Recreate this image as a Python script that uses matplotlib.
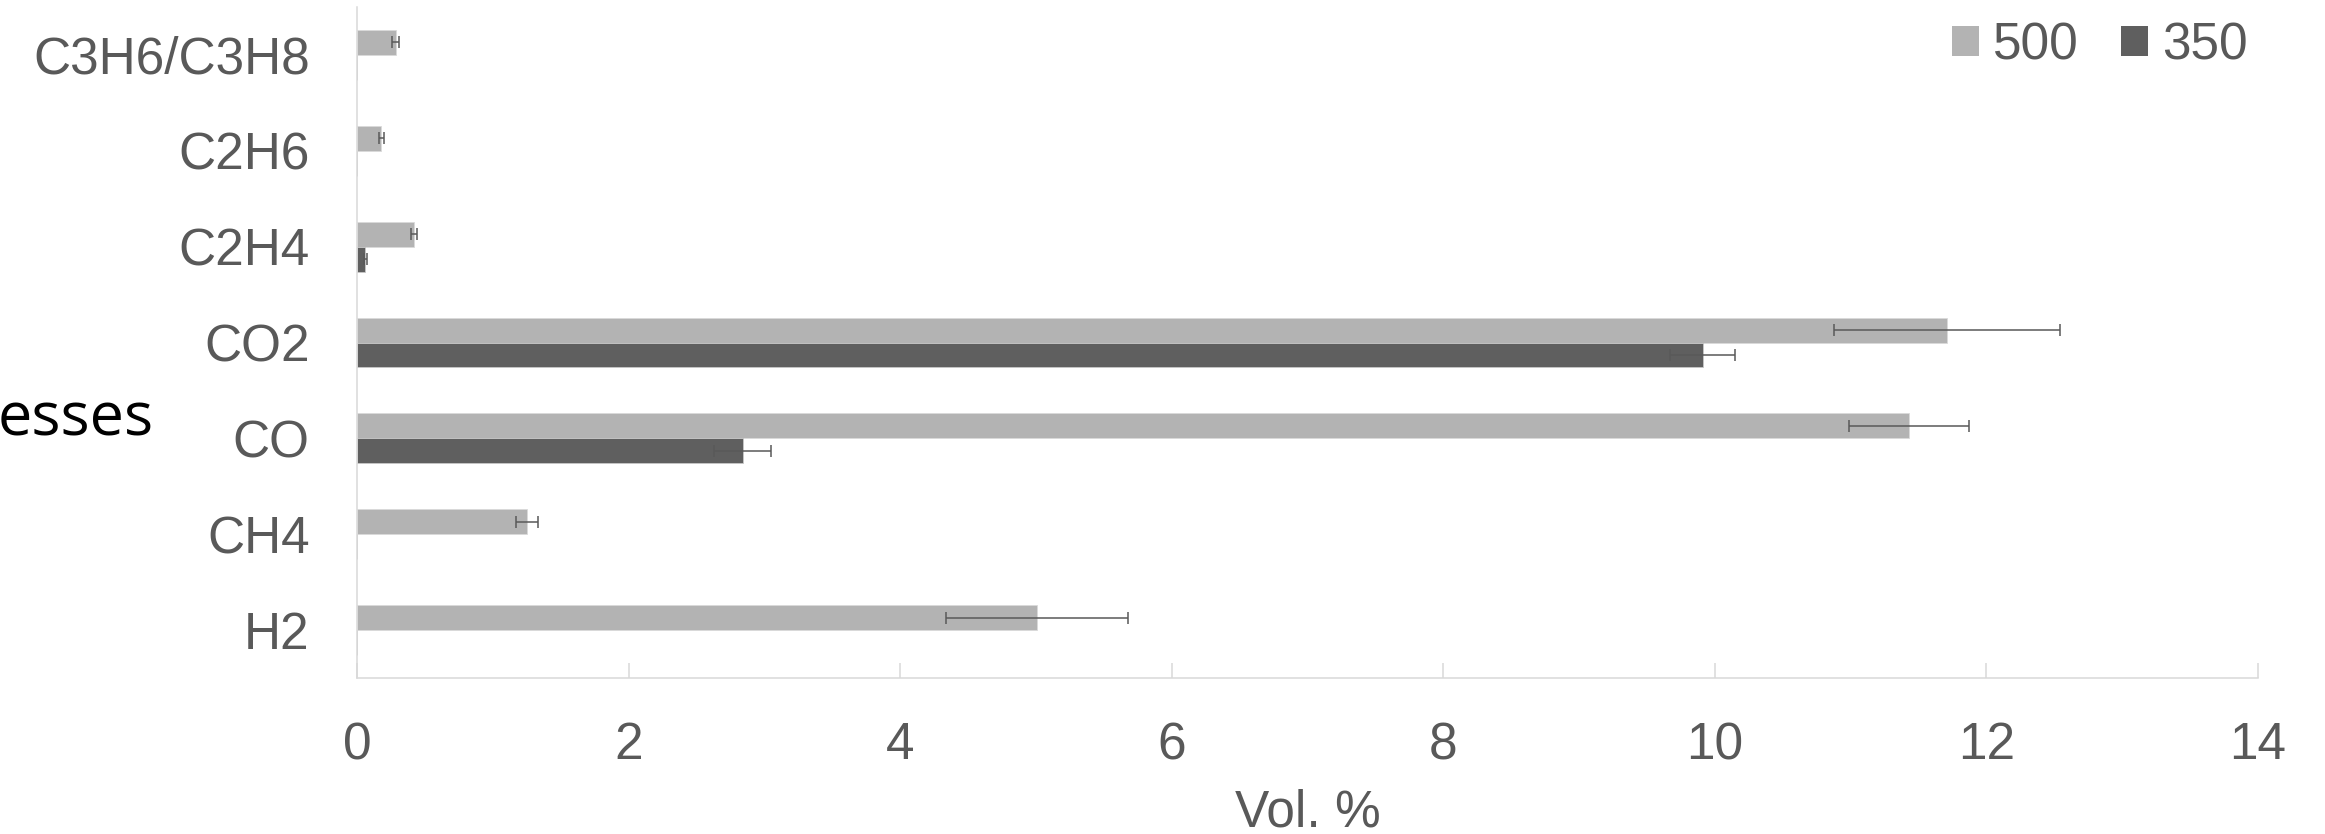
import numpy as np
import matplotlib
matplotlib.use('Agg')
import matplotlib.pyplot as plt
from matplotlib.patches import Patch

gases = ['H2', 'CH4', 'CO', 'CO2', 'C2H4', 'C2H6', 'C3H6/C3H8']

vol_500 = [5.01, 1.25, 11.43, 11.71, 0.42, 0.18, 0.285]
err_500 = [0.67, 0.08, 0.44, 0.83, 0.02, 0.02, 0.025]

vol_350 = [0, 0, 2.84, 9.91, 0.06, 0, 0]
err_350 = [0, 0, 0.21, 0.24, 0.01, 0, 0]

light = '#B3B3B3'
dark = '#5F5F5F'
txt = '#595959'
axc = '#D9D9D9'

plt.rcParams['font.family'] = ['Liberation Sans', 'DejaVu Sans']

fig = plt.figure(figsize=(23.25, 8.34), dpi=100)
ax = fig.add_axes([357/2325, 1 - 678/834, (2258 - 357)/2325, (678 - 7)/834])

y = np.arange(len(gases))
h = 0.26

ax.barh(y + h/2, vol_500, height=h, color=light, edgecolor='#DADADA', linewidth=0.6)
ax.barh(y - h/2, vol_350, height=h, color=dark, edgecolor='#C8C8C8', linewidth=0.6)

# error bars only where a deviation was measured
e5 = np.array(err_500)
e3 = np.array(err_350)
m5 = e5 > 0
m3 = e3 > 0
ax.errorbar(np.array(vol_500)[m5], (y + h/2)[m5], xerr=e5[m5], fmt='none',
            ecolor=txt, elinewidth=1.1, capsize=4.3, capthick=1.1)
ax.errorbar(np.array(vol_350)[m3], (y - h/2)[m3], xerr=e3[m3], fmt='none',
            ecolor=txt, elinewidth=1.1, capsize=4.3, capthick=1.1)

ax.set_xlim(0, 14)
ax.set_ylim(-0.5, len(gases) - 0.5)
ax.set_xticks(np.arange(0, 15, 2))
ax.set_yticks(y)
ax.set_yticklabels(gases)

for s in ['top', 'right']:
    ax.spines[s].set_visible(False)
for s in ['left', 'bottom']:
    ax.spines[s].set_color(axc)
    ax.spines[s].set_linewidth(1.1)

ax.tick_params(axis='x', direction='in', length=10.8, width=1.1, color=axc,
               labelsize=37, labelcolor=txt, pad=31)
ax.tick_params(axis='y', length=0, labelsize=37, labelcolor=txt, pad=34)

ax.set_xlabel('Vol. %', fontsize=37, color=txt, labelpad=13)

# axis title running off the left edge
fig.text(154/2325, 1 - 435/834, 'esses', ha='right', va='baseline',
         fontsize=44, color='black', family=['Open Sans', 'DejaVu Sans'])

handles = [Patch(facecolor=light, edgecolor='none'), Patch(facecolor=dark, edgecolor='none')]
fig.legend(handles, ['500', '350'], loc='center left',
           bbox_to_anchor=(1952/2325, 1 - 46/834), ncol=2, frameon=False,
           fontsize=37, labelcolor=txt, handlelength=0.53, handleheight=0.53,
           handletextpad=0.27, columnspacing=0.82, borderpad=0, borderaxespad=0)

fig.savefig('out.png', dpi=100)
